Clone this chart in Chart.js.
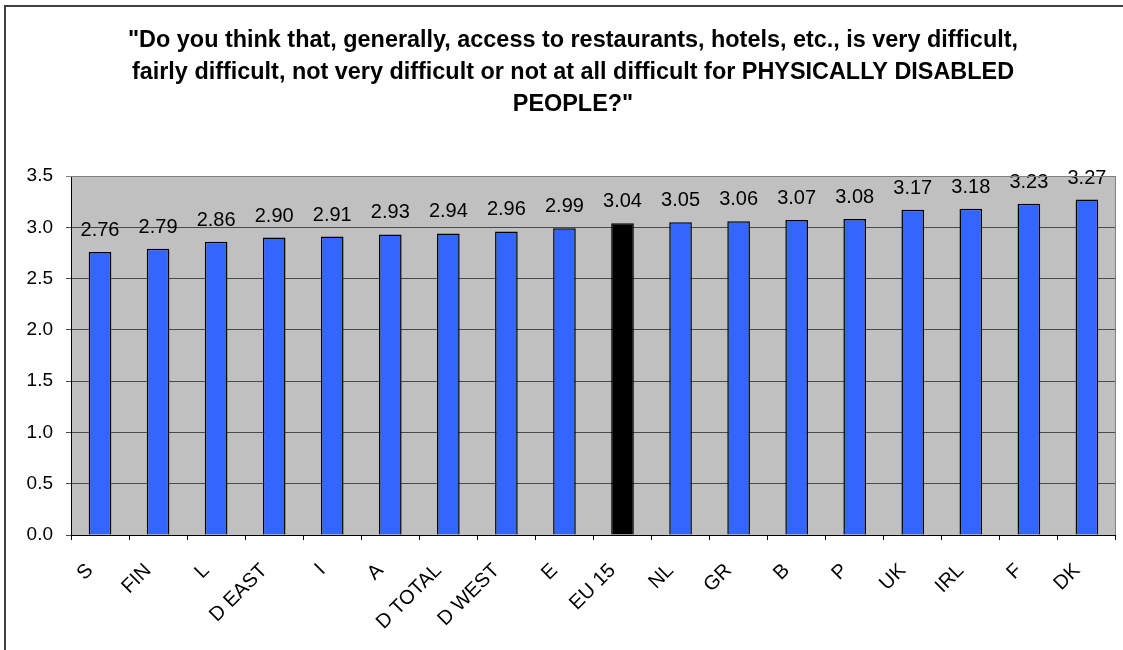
<!DOCTYPE html>
<html><head><meta charset="utf-8">
<script src="https://cdn.jsdelivr.net/npm/chart.js@4"></script>
<style>html,body{margin:0;padding:0;background:#fff;overflow:hidden;} #wrap{width:1123px;height:650px;position:relative;}</style>
</head><body><div id="wrap"><canvas id="c" width="1123" height="650"></canvas></div>
<script>
const categories = ['S','FIN','L','D EAST','I','A','D TOTAL','D WEST','E','EU 15','NL','GR','B','P','UK','IRL','F','DK'];
const values = [2.76,2.79,2.86,2.90,2.91,2.93,2.94,2.96,2.99,3.04,3.05,3.06,3.07,3.08,3.17,3.18,3.23,3.27];
const yTickValues = [0,0.5,1.0,1.5,2.0,2.5,3.0,3.5];
const titleLines = [
  '"Do you think that, generally, access to restaurants, hotels, etc., is very difficult,',
  'fairly difficult, not very difficult or not at all difficult for PHYSICALLY DISABLED',
  'PEOPLE?"'
];
const highlightCategory = 'EU 15';

const FONT = '"Liberation Sans", Arial, sans-serif';
const barColors = categories.map(c => c === highlightCategory ? '#000000' : '#3366FF');

const framePlugin = {
  id: 'frame',
  beforeDraw(chart) {
    const ctx = chart.ctx, a = chart.chartArea;
    ctx.save();
    ctx.fillStyle = '#fff';
    ctx.fillRect(0, 0, chart.width, chart.height);
    ctx.strokeStyle = '#404040';
    ctx.lineWidth = 2;
    ctx.beginPath();
    ctx.moveTo(5, chart.height + 2);
    ctx.lineTo(5, 6);
    ctx.lineTo(chart.width + 2, 6);
    ctx.stroke();
    ctx.fillStyle = '#C0C0C0';
    ctx.fillRect(a.left, a.top, a.right - a.left, a.bottom - a.top);
    ctx.restore();
  },
  afterDraw(chart) {
    const ctx = chart.ctx, a = chart.chartArea;
    ctx.save();
    ctx.strokeStyle = '#808080';
    ctx.lineWidth = 1;
    ctx.beginPath();
    ctx.moveTo(a.left, a.top + 0.5);
    ctx.lineTo(a.right - 0.5, a.top + 0.5);
    ctx.lineTo(a.right - 0.5, a.bottom);
    ctx.stroke();
    // title
    ctx.fillStyle = '#000';
    ctx.textAlign = 'center';
    ctx.textBaseline = 'alphabetic';
    ctx.font = 'bold 100px ' + FONT;
    const w = ctx.measureText(titleLines[0]).width;
    const size = 100 * 890 / w;
    ctx.font = 'bold ' + size.toFixed(2) + 'px ' + FONT;
    const baselines = [47, 79, 111];
    titleLines.forEach((t, i) => ctx.fillText(t, 573, baselines[i]));
    ctx.restore();
  },
  afterDatasetsDraw(chart) {
    const ctx = chart.ctx;
    const meta = chart.getDatasetMeta(0);
    ctx.save();
    ctx.fillStyle = '#000';
    ctx.font = '20px ' + FONT;
    ctx.textAlign = 'center';
    ctx.textBaseline = 'alphabetic';
    meta.data.forEach((bar, i) => {
      ctx.fillText(values[i].toFixed(2), bar.x, bar.y - 16);
    });
    ctx.restore();
  }
};

new Chart(document.getElementById('c'), {
  type: 'bar',
  data: {
    labels: categories,
    datasets: [{
      data: values,
      backgroundColor: barColors,
      borderColor: '#000',
      borderWidth: 1.5,
      barPercentage: 0.39,
      categoryPercentage: 1.0
    }]
  },
  options: {
    responsive: false,
    devicePixelRatio: 1,
    animation: false,
    layout: { padding: { top: 176, left: 0, right: 4, bottom: 0 } },
    plugins: { legend: { display: false }, title: { display: false }, tooltip: { enabled: false } },
    scales: {
      x: {
        offset: true,
        grid: { offset: true, drawOnChartArea: false, drawTicks: true, tickLength: 5, color: '#000', lineWidth: 1 },
        border: { display: true, color: '#000', width: 1 },
        ticks: { color: '#000', font: { family: FONT, size: 20 }, minRotation: 45, maxRotation: 45, padding: 19, labelOffset: -10, autoSkip: false },
        afterFit(s) { s.height = 115; }
      },
      y: {
        min: 0, max: 3.5,
        afterBuildTicks(s) { s.ticks = yTickValues.map(v => ({ value: v })); },
        grid: {
          color: ctx => ctx.tick && ctx.tick.value === 3.5 ? '#808080' : '#4a4a4a',
          lineWidth: 1, drawTicks: true, tickLength: 5
        },
        border: { display: true, color: '#000', width: 1 },
        ticks: { color: '#000', font: { family: FONT, size: 19 }, padding: 13, callback: v => Number(v).toFixed(1) },
        afterFit(s) { s.width = 71; }
      }
    }
  },
  plugins: [framePlugin]
});
</script></body></html>
